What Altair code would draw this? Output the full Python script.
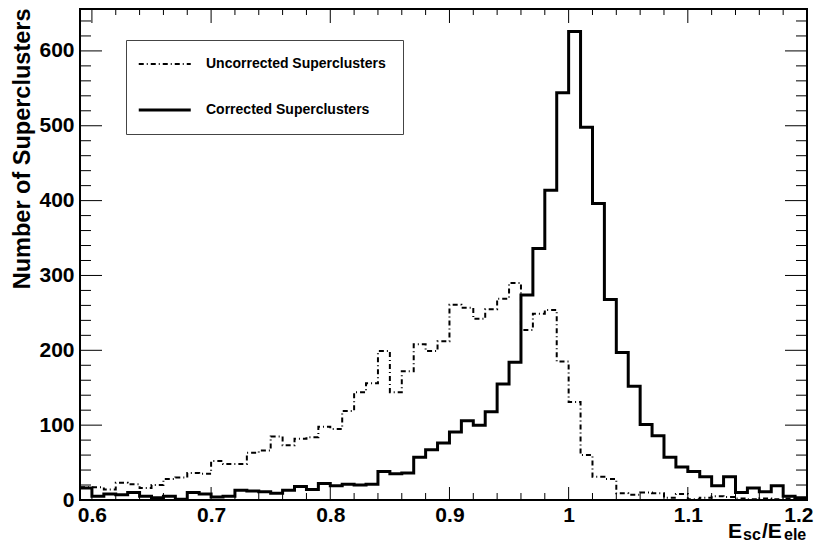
import altair as alt
import pandas as pd

# ---- data ----
series_names = ["Uncorrected Superclusters", "Corrected Superclusters"]

# bin lower edges: 61 bins of width 0.01 from 0.59 to 1.20
bin_low = [round(0.59 + 0.01 * i, 2) for i in range(61)]
x_end = 1.20

corrected = [16, 5, 8, 7, 10, 5, 3, 5, 1, 10,
             8, 4, 5, 13, 12, 11, 9, 13, 18, 14,
             22, 19, 21, 20, 21, 38, 35, 36, 57, 67,
             76, 91, 106, 100, 118, 155, 184, 274, 336, 414,
             544, 626, 498, 396, 268, 197, 152, 101, 86, 57,
             44, 38, 31, 19, 31, 10, 16, 11, 19, 5,
             3]

uncorrected = [17, 17, 14, 23, 21, 16, 20, 28, 30, 36,
               35, 52, 48, 48, 63, 66, 85, 73, 82, 84,
               98, 95, 119, 144, 156, 199, 144, 172, 208, 199,
               212, 261, 257, 242, 255, 269, 290, 227, 249, 254,
               185, 131, 60, 31, 28, 9, 7, 10, 9, 3,
               8, 1, 3, 5, 4, 2, 1, 2, 1, 2,
               1]

x_major = [0.6, 0.7, 0.8, 0.9, 1.0, 1.1, 1.2]
y_major = [0, 100, 200, 300, 400, 500, 600]
x_minor = [round(m + 0.02 * j, 2) for m in x_major[:-1] for j in range(1, 5)]
y_minor = [m + 20 * j for m in y_major for j in range(1, 5) if m + 20 * j < 656]

x_title_parts = ["E", "sc", "/E", "ele"]
y_title = "Number of Superclusters"

# ---- build tables ----
rows = []
for name, vals in zip(series_names, [uncorrected, corrected]):
    xs = bin_low + [x_end]
    ys = vals + [vals[-1]]
    for xv, yv in zip(xs, ys):
        rows.append({"series": name, "x": xv, "y": yv})
df = pd.DataFrame(rows)

FONT = "Liberation Sans"
W, H = 727, 491
xscale = alt.Scale(domain=[0.59, 1.2], nice=False, zero=False)
yscale = alt.Scale(domain=[0, 656], nice=False)

x_axis = alt.Axis(values=x_major, format="~g", title=None, ticks=False, domain=False, grid=False,
                  labelFont=FONT, labelFontSize=21, labelFontWeight="bold", labelColor="black",
                  labelPadding=4, labelFlush=True, labelFlushOffset=6)
y_axis = alt.Axis(values=y_major, format="d", ticks=False, domain=False, grid=False,
                  labelFont=FONT, labelFontSize=21, labelFontWeight="bold", labelColor="black",
                  labelPadding=6, title=y_title, titleFont=FONT, titleFontSize=23.5,
                  titleFontWeight="bold", titleColor="black", titleAngle=270, titleAlign="right",
                  titleBaseline="middle", titleX=-58, titleY=-1)

lines = alt.Chart(df).mark_line(interpolate="step-after", color="black", strokeCap="butt").encode(
    x=alt.X("x:Q", scale=xscale, axis=x_axis, title=None),
    y=alt.Y("y:Q", scale=yscale, axis=y_axis, title=y_title),
    strokeDash=alt.StrokeDash("series:N",
                              scale=alt.Scale(domain=series_names, range=[[5, 3, 1, 3], [1, 0]]),
                              legend=alt.Legend(title=None, orient="none", legendX=46, legendY=31,
                                                direction="vertical", strokeColor="#444", fillColor="white",
                                                padding=17, symbolType="M-2.25,0H8.15", symbolSize=100,
                                                symbolStrokeWidth=2.5, symbolStrokeColor="black",
                                                labelFont=FONT, labelFontSize=14, labelFontWeight="bold",
                                                labelColor="black", labelOffset=49, rowPadding=32,
                                                labelLimit=400)),
    strokeWidth=alt.StrokeWidth("series:N", scale=alt.Scale(domain=series_names, range=[2, 3]), legend=None),
)

xmaj = pd.DataFrame({"t": x_major})
xmin = pd.DataFrame({"t": x_minor})
ymaj = pd.DataFrame({"t": y_major})
ymin = pd.DataFrame({"t": y_minor})


def xticks(d, y1, y2):
    return alt.Chart(d).mark_rule(color="black", strokeWidth=1).encode(
        x=alt.X("t:Q", scale=xscale, title=None), y=alt.value(y1), y2=alt.value(y2))


def yticks(d, x1, x2):
    return alt.Chart(d).mark_rule(color="black", strokeWidth=1).encode(
        y=alt.Y("t:Q", scale=yscale, title=y_title), x=alt.value(x1), x2=alt.value(x2))


ticks = [
    xticks(xmaj, H, H - 13), xticks(xmin, H, H - 7),
    xticks(xmaj, 0, 14), xticks(xmin, 0, 6),
    yticks(ymaj, 0, 22), yticks(ymin, 0, 11),
    yticks(ymaj, W, W - 22), yticks(ymin, W, W - 11),
]

# x-axis title with subscripts
title_specs = [
    (x_title_parts[0], 648, 529, 21),
    (x_title_parts[1], 663, 531, 16),
    (x_title_parts[2], 682, 529, 21),
    (x_title_parts[3], 704, 531, 16),
]
title_layers = [
    alt.Chart(pd.DataFrame({"a": [0]})).mark_text(
        text=t, font=FONT, fontSize=fs, fontWeight="bold", color="black", align="left", baseline="alphabetic"
    ).encode(x=alt.value(px), y=alt.value(py))
    for t, px, py, fs in title_specs
]

chart = alt.layer(lines, *ticks, *title_layers).properties(
    width=W, height=H,
    autosize=alt.AutoSizeParams(type="none"),
    padding={"left": 72, "top": 1, "right": 7, "bottom": 44},
    background="white",
).configure_view(stroke="black", strokeWidth=2)

chart.save("out.html", embed_options={"renderer": "svg", "actions": False})
